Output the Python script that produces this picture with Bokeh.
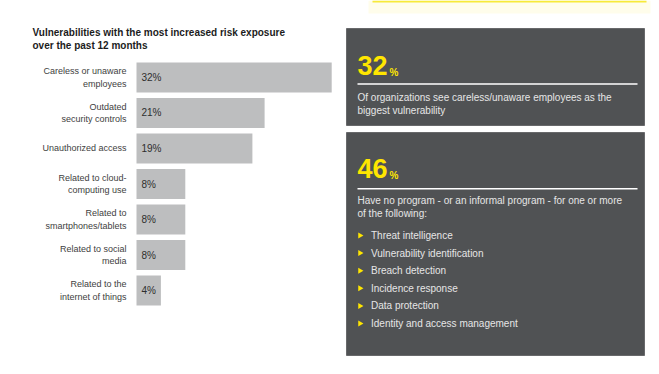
import math
from bokeh.plotting import figure
from bokeh.models import Range1d, FactorRange, Label, ColumnDataSource
from bokeh.layouts import row
from bokeh.embed import file_html
from bokeh.resources import INLINE
from bokeh.core.properties import value

# ---------------- data ----------------
title_lines = ["Vulnerabilities with the most increased risk exposure",
               "over the past 12 months"]
categories = ["Careless or unaware\nemployees",
              "Outdated\nsecurity controls",
              "Unauthorized access",
              "Related to cloud-\ncomputing use",
              "Related to\nsmartphones/tablets",
              "Related to social\nmedia",
              "Related to the\ninternet of things"]
values = [32, 21, 19, 8, 8, 8, 4]
value_labels = [f"{v}%" for v in values]

stat1_value = "32"
stat1_text = ["Of organizations see careless/unaware employees as the",
              "biggest vulnerability"]
stat2_value = "46"
stat2_text = ["Have no program - or an informal program - for one or more",
              "of the following:"]
stat2_items = ["Threat intelligence", "Vulnerability identification",
               "Breach detection", "Incidence response", "Data protection",
               "Identity and access management"]

# ---------------- styles ----------------
FONT_NAME = "Liberation Sans"
FONT = value(FONT_NAME)
BAR = "#BDBEBF"
LABEL = "#3e3e3e"
PANEL = "#505254"
PANEL_TXT = "#E6E6E6"
YELLOW = "#FFE600"

# ---------------- left: bar chart ----------------
PX_PER_PCT = 6.1
W1, H = 340, 367
ORIGIN = 136
left = figure(width=W1, height=H, output_backend="svg", toolbar_location=None,
              x_range=Range1d(-ORIGIN / PX_PER_PCT, (W1 - ORIGIN) / PX_PER_PCT),
              y_range=FactorRange(factors=list(reversed(categories)),
                                  range_padding=1.669, range_padding_units="absolute"),
              x_axis_location=None, y_axis_location=None,
              min_border_left=0, min_border_right=0, min_border_top=0, min_border_bottom=0)
left.grid.visible = False
left.outline_line_color = None
left.background_fill_color = "white"
left.border_fill_color = "white"

src = ColumnDataSource(dict(cat=categories, val=values, lab=value_labels))
left.hbar(y="cat", left=0, right="val", height=0.845, source=src,
          fill_color=BAR, line_color=None)
left.text(x=0, y="cat", text="cat", source=src, x_offset=-10,
          text_align="right", text_baseline="middle", text_font=FONT,
          text_font_size="9px", text_color=LABEL, text_line_height=1.28)
left.text(x=0, y="cat", text="lab", source=src, x_offset=5,
          text_align="left", text_baseline="middle", text_font=FONT,
          text_font_size="10px", text_color="#2e2e2e")

for t, py in zip(title_lines, [26.5, 39.5]):
    left.add_layout(Label(x=32, y=H - py, x_units="screen", y_units="screen",
                          text=t, text_font=FONT_NAME, text_font_style="bold",
                          text_font_size="10px", text_color="#1c1c1c",
                          text_baseline="top"))

# ---------------- right: stat panels ----------------
W2 = 315
right = figure(width=W2, height=H, output_backend="svg", toolbar_location=None,
               x_range=Range1d(W1, W1 + W2), y_range=Range1d(H, 0),
               x_axis_location=None, y_axis_location=None,
               min_border_left=0, min_border_right=0, min_border_top=0, min_border_bottom=0)
right.grid.visible = False
right.outline_line_color = None
right.background_fill_color = "white"
right.border_fill_color = "white"

# yellow strip remnant at the top, with its faint glow
right.quad(left=[368], right=[650], top=[0], bottom=[13], fill_color="#FFFDEB", line_color=None)
right.quad(left=[372], right=[646], top=[0], bottom=[2], fill_color="#F7EA3A", line_color=None)

# panels
right.quad(left=[346, 346], right=[644, 644], top=[28, 132], bottom=[125, 355],
           fill_color=PANEL, line_color="#68696b", line_width=1)

# big numbers
right.text(x=[357, 357], y=[55.5, 158.5], text=[stat1_value, stat2_value],
           text_font=FONT, text_font_style="bold", text_font_size="27px",
           text_color=YELLOW, text_baseline="top")
right.text(x=[389, 389], y=[66.5, 169.5], text=["%", "%"],
           text_font=FONT, text_font_style="bold", text_font_size="10px",
           text_color=YELLOW, text_baseline="top")

# separators
right.segment(x0=[357, 357], x1=[637, 637], y0=[83.5, 188.3], y1=[83.5, 188.3],
              line_color="white", line_width=1.5)

# panel 1 text
right.text(x=[357] * len(stat1_text), y=[97 + 12.5 * i for i in range(len(stat1_text))],
           text=stat1_text, text_font=FONT, text_font_size="10px",
           text_color=PANEL_TXT, text_baseline="middle")
# panel 2 text
right.text(x=[357] * len(stat2_text), y=[200 + 13.3 * i for i in range(len(stat2_text))],
           text=stat2_text, text_font=FONT, text_font_size="10px",
           text_color=PANEL_TXT, text_baseline="middle")
item_y = [235 + 17.6 * i for i in range(len(stat2_items))]
right.scatter(x=[359.5] * len(stat2_items), y=item_y, marker="triangle",
              angle=-math.pi / 2, size=6, fill_color=YELLOW, line_color=None)
right.text(x=[370.5] * len(stat2_items), y=item_y, text=stat2_items,
           text_font=FONT, text_font_size="10px", text_color=PANEL_TXT,
           text_baseline="middle")

layout = row(left, right)
open("out.html", "w").write(file_html(layout, INLINE))
